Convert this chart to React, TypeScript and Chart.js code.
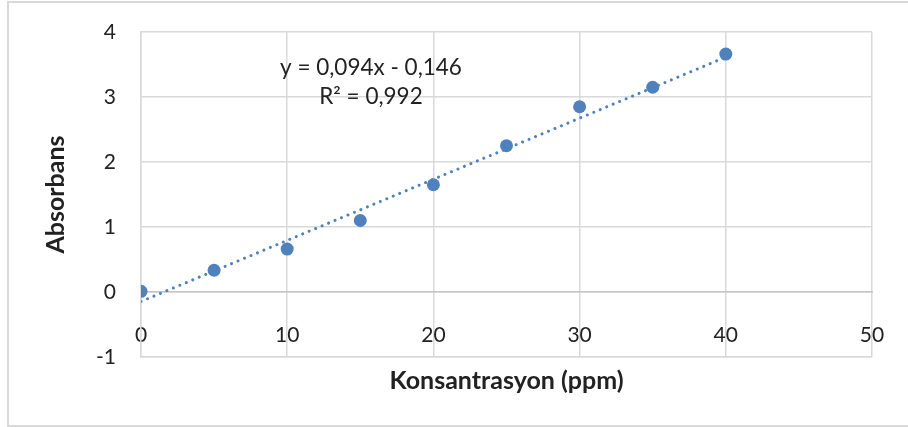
import React, { useEffect, useRef } from "react";
import { Chart, registerables } from "chart.js";

Chart.register(...registerables);

const CONCENTRATIONS = [0, 5, 10, 15, 20, 25, 30, 35, 40];
const ABSORBANCES = [0.01, 0.335, 0.66, 1.1, 1.65, 2.25, 2.85, 3.15, 3.66];
const TREND_X = [0, 40];
const SLOPE = 0.094;
const INTERCEPT = -0.146;
const EQUATION_LINES = ["y = 0,094x - 0,146", "R² = 0,992"];
const LABEL_POS = { x: 15.73, y: [3.45, 3.01] };
const X_TITLE = "Konsantrasyon (ppm)";
const Y_TITLE = "Absorbans";

const FONT = "Lato";
const BLUE = "#4F81BD";
const GRID = "#d9d9d9";
const TEXT = "#222222";

const equationPlugin = {
  id: "equationLabel",
  afterDatasetsDraw(chart: any) {
    const { ctx, scales } = chart;
    ctx.save();
    ctx.font = `22.5px ${FONT}`;
    ctx.fillStyle = TEXT;
    ctx.textAlign = "center";
    ctx.textBaseline = "middle";
    const px = scales.x.getPixelForValue(LABEL_POS.x);
    EQUATION_LINES.forEach((line, i) => {
      ctx.fillText(line, px, scales.y.getPixelForValue(LABEL_POS.y[i]));
    });
    ctx.restore();
  },
};

export default function App() {
  const canvasRef = useRef<HTMLCanvasElement>(null);

  useEffect(() => {
    document.body.style.margin = "0";
    const canvas = canvasRef.current;
    if (!canvas) return;
    const points = CONCENTRATIONS.map((x, i) => ({ x, y: ABSORBANCES[i] }));
    const trend = TREND_X.map((x) => ({ x, y: SLOPE * x + INTERCEPT }));
    const chart = new Chart(canvas, {
      type: "scatter",
      data: {
        datasets: [
          {
            data: points,
            backgroundColor: BLUE,
            borderColor: BLUE,
            pointRadius: 6.5,
            pointHoverRadius: 6.5,
            pointBorderWidth: 0,
          },
          {
            data: trend,
            showLine: true,
            borderColor: BLUE,
            borderWidth: 3,
            borderDash: [0.01, 7],
            borderCapStyle: "round",
            pointRadius: 0,
            pointHoverRadius: 0,
          },
        ],
      },
      options: {
        animation: false,
        responsive: false,
        maintainAspectRatio: false,
        layout: { padding: { top: 32, right: 36, left: 0, bottom: 0 } },
        plugins: { legend: { display: false }, tooltip: { enabled: false } },
        scales: {
          x: {
            type: "linear",
            position: "bottom",
            min: 0,
            max: 50,
            ticks: { display: false, stepSize: 10 },
            grid: { color: GRID, lineWidth: 1.5, drawTicks: false },
            border: { color: GRID, width: 1.5 },
            title: {
              display: true,
              text: X_TITLE,
              color: TEXT,
              font: { family: FONT, size: 25, weight: "bold" },
              padding: { top: 0, bottom: 31 },
            },
            afterFit(scale: any) {
              scale.height = 70;
              scale.paddingLeft = 0;
              scale.paddingRight = 0;
            },
          },
          x2: {
            type: "linear",
            axis: "x",
            position: { y: 0 },
            min: 0,
            max: 50,
            ticks: {
              stepSize: 10,
              padding: 31,
              color: TEXT,
              font: { family: FONT, size: 21 },
            },
            grid: { display: false, drawTicks: false },
            border: { display: true, color: "#c6c6c6", width: 1.5 },
            afterFit(scale: any) {
              scale.paddingLeft = 0;
              scale.paddingRight = 0;
              scale.paddingTop = 0;
              scale.paddingBottom = 0;
            },
          },
          y: {
            type: "linear",
            min: -1,
            max: 4,
            ticks: {
              stepSize: 1,
              padding: 25,
              color: TEXT,
              font: { family: FONT, size: 21 },
            },
            grid: { color: GRID, lineWidth: 1.5, drawTicks: false },
            border: { color: GRID, width: 1.5 },
            title: {
              display: true,
              text: Y_TITLE,
              color: TEXT,
              font: { family: FONT, size: 25, weight: "bold" },
              padding: { top: 41, bottom: 0 },
            },
            afterFit(scale: any) {
              scale.width = 141;
              scale.paddingTop = 0;
              scale.paddingBottom = 0;
            },
          },
        },
      },
      plugins: [equationPlugin],
    } as any);
    return () => chart.destroy();
  }, []);

  return (
    <div style={{ position: "relative", width: 908, height: 427, overflow: "hidden", background: "#fff" }}>
      <canvas ref={canvasRef} width={908} height={427} style={{ position: "absolute", left: 0, top: 0, width: 908, height: 427 }} />
      <div
        style={{
          position: "absolute",
          left: 7,
          top: 1,
          width: 1000,
          height: 426,
          border: `2px solid ${GRID}`,
          boxSizing: "border-box",
          pointerEvents: "none",
        }}
      />
    </div>
  );
}
